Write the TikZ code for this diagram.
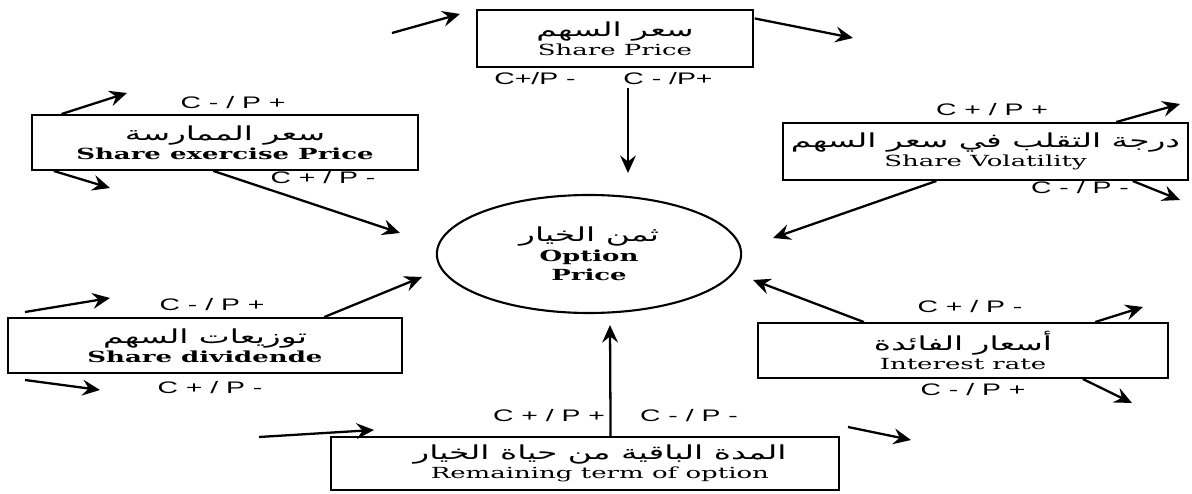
\documentclass[tikz,border=0pt]{standalone}
\usepackage{fontspec}
\setmainfont{DejaVu Serif}
\newfontfamily\arabicfont[Script=Arabic]{DejaVu Sans}
\newfontfamily\labelfont{Liberation Sans}
\TeXXeTstate=1
\usetikzlibrary{arrows.meta,shapes.geometric,calc}
\newcommand{\artxt}[1]{{\arabicfont\fontsize{11}{12}\selectfont\beginR #1\endR}}
\begin{document}
\begin{tikzpicture}[
  box/.style={draw, line width=1.1pt, xscale=1.7, inner sep=0pt, align=center,
    font=\fontsize{8.7}{11}\selectfont},
  sign/.style={xscale=1.7, font=\labelfont\fontsize{9.5}{10}\selectfont},
  arr/.style={line width=1.3pt, -{Stealth[length=10pt,width=9pt,inset=3.5pt]}}]
\useasboundingbox (0,0) rectangle (23.84,-9.88);
% factor boxes
\node[box, minimum width=3.25cm, minimum height=1.14cm] (sp) at (12.30,-0.77) {\artxt{سعر السهم}\\Share Price};
\node[box, minimum width=4.54cm, minimum height=1.10cm] (ex) at (4.50,-2.85) {\artxt{سعر الممارسة}\\\bfseries Share exercise Price};
\node[box, minimum width=4.77cm, minimum height=1.14cm] (vol) at (19.71,-3.03) {\artxt{درجة التقلب في سعر السهم}\\Share Volatility};
\node[box, minimum width=4.64cm, minimum height=1.10cm] (div) at (4.10,-6.91) {\artxt{توزيعات السهم}\\\bfseries Share dividende};
\node[box, minimum width=4.82cm, minimum height=1.10cm] (int) at (19.26,-7.01) {\artxt{أسعار الفائدة}\\Interest rate};
\node[box, minimum width=5.98cm, minimum height=1.06cm] (rem) at (11.70,-9.27) {\hspace*{0.35cm}\artxt{المدة الباقية من حياة الخيار}\\\hspace*{0.35cm}Remaining term of option};
% option price
\node[box, ellipse, line width=1.2pt, minimum width=3.58cm, minimum height=2.36cm] (op) at (11.78,-5.08)
  {\artxt{ثمن الخيار}\\\bfseries Option\\\bfseries Price};
% signs
\node[sign] (spl) at (10.70,-1.58) {C+/P -};
\node[sign] (spr) at (13.36,-1.58) {C - /P+};
\node[sign] (exu) at (4.66,-2.06) {C - / P +};
\node[sign] (exd) at (6.46,-3.56) {C + / P -};
\node[sign] (volu) at (19.84,-2.20) {C + / P +};
\node[sign] (vold) at (21.60,-3.76) {C - / P -};
\node[sign] (divu) at (4.24,-6.10) {C - / P +};
\node[sign] (divd) at (4.20,-7.76) {C + / P -};
\node[sign] (intu) at (19.40,-6.14) {C + / P -};
\node[sign] (intd) at (19.46,-7.80) {C - / P +};
\node[sign] (reml) at (10.98,-8.32) {C + / P +};
\node[sign] (remr) at (13.78,-8.32) {C - / P -};
% free ends
\coordinate (spa) at (7.84,-0.66);
\coordinate (spb) at (9.20,-0.28);
\coordinate (spc) at (17.06,-0.76);
\coordinate (spd) at (12.56,-1.76);
\coordinate (spe) at (12.56,-3.46);
\coordinate (exa) at (2.54,-1.86);
\coordinate (exb) at (2.20,-3.76);
\coordinate (exc) at (8.00,-4.66);
\coordinate (vola) at (23.60,-2.08);
\coordinate (volb) at (23.60,-4.00);
\coordinate (volc) at (15.46,-4.76);
\coordinate (diva) at (0.50,-6.24);
\coordinate (divb) at (2.20,-5.96);
\coordinate (divc) at (0.50,-7.60);
\coordinate (divd') at (2.00,-7.80);
\coordinate (divx) at (8.44,-5.54);
\coordinate (inta) at (22.86,-6.14);
\coordinate (intb) at (22.64,-8.06);
\coordinate (intc) at (15.06,-5.60);
\coordinate (rema) at (5.18,-8.74);
\coordinate (remb) at (7.48,-8.60);
\coordinate (remc) at (16.96,-8.54);
\coordinate (remd) at (18.22,-8.80);
\coordinate (reme) at (12.20,-6.50);
% arrows
\draw[arr] (spa) -- (spb);
\draw[arr] ($(sp.north east)!0.16!(sp.south east)$) -- (spc);
\draw[arr] (spd) -- (spe);
\draw[arr] ($(ex.north west)!0.08!(ex.north east)$) -- (exa);
\draw[arr] ($(ex.south west)!0.06!(ex.south east)$) -- (exb);
\draw[arr] ($(ex.south west)!0.47!(ex.south east)$) -- (exc);
\draw[arr] ($(vol.north west)!0.82!(vol.north east)$) -- (vola);
\draw[arr] ($(vol.south west)!0.86!(vol.south east)$) -- (volb);
\draw[arr] ($(vol.south west)!0.38!(vol.south east)$) -- (volc);
\draw[arr] (diva) -- (divb);
\draw[arr] (divc) -- (divd');
\draw[arr] ($(div.north west)!0.80!(div.north east)$) -- (divx);
\draw[arr] ($(int.north west)!0.82!(int.north east)$) -- (inta);
\draw[arr] ($(int.south west)!0.79!(int.south east)$) -- (intb);
\draw[arr] ($(int.north west)!0.26!(int.north east)$) -- (intc);
\draw[arr] (rema) -- (remb);
\draw[arr] (remc) -- (remd);
\draw[arr] ($(rem.north west)!0.55!(rem.north east)$) -- (reme);
\end{tikzpicture}
\end{document}
